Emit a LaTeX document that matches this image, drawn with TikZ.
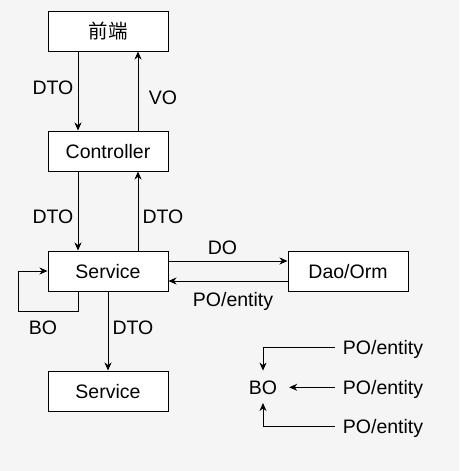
\documentclass[tikz,border=0pt]{standalone}
\usepackage{fontspec}
\setmainfont{Liberation Sans}
\newfontfamily\cjk{Noto Sans CJK SC}
\usetikzlibrary{arrows.meta}
\definecolor{bg}{HTML}{F5F5F5}
\begin{document}
\begin{tikzpicture}[x=1pt,y=-1pt,
  txt/.style={font=\fontsize{19.5}{23}\selectfont, text height=14.4pt, text depth=0pt},
  box/.style={txt, draw, fill=white, line width=1pt, minimum width=120pt, minimum height=40pt, inner sep=0pt},
  lbl/.style={txt, inner sep=0pt},
  conn/.style={line width=1pt, -{Stealth[length=8pt,width=7pt,inset=2.5pt]}},
  line/.style={line width=1pt}
]
\fill[bg] (0,0) rectangle (459,471);
\useasboundingbox (0,0) rectangle (459,471);

\node[box] (fe) at (108,31) {\cjk 前端};
\node[box] (ctrl) at (108,151) {Controller};
\node[box] (svc) at (108,271) {Service};
\node[box] (svc2) at (108,391) {Service};
\node[box] (dao) at (348,271) {Dao/Orm};

\draw[conn] ([xshift=-30pt]fe.south) -- ([xshift=-30pt]ctrl.north);
\draw[conn] ([xshift=30pt]ctrl.north) -- ([xshift=30pt]fe.south);
\draw[conn] ([xshift=-30pt]ctrl.south) -- ([xshift=-30pt]svc.north);
\draw[conn] ([xshift=30pt]svc.north) -- ([xshift=30pt]ctrl.south);
\draw[conn] ([yshift=10pt]svc.east) -- ([yshift=10pt]dao.west);
\draw[conn] ([yshift=-10pt]dao.west) -- ([yshift=-10pt]svc.east);
\draw[conn] ([xshift=-30pt]svc.south) -- ++(0,20) -- ++(-60,0) |- (svc.west);
\draw[conn] (svc.south) -- (svc2.north);

\node[lbl] (l1) at (53,87) {DTO};
\node[lbl] (l2) at (163,97) {VO};
\node[lbl] (l3) at (53,216.5) {DTO};
\node[lbl] (l4) at (163,216.5) {DTO};
\node[lbl] (l5) at (222.5,247) {DO};
\node[lbl] (l6) at (233,299.3) {PO/entity};
\node[lbl] (l7) at (43,327) {BO};
\node[lbl] (l8) at (133,327) {DTO};

\node[lbl, minimum width=52pt, minimum height=32pt] (bo) at (263,386.8) {BO};
\node[lbl, inner xsep=8pt] (p1) at (383,347.3) {PO/entity};
\node[lbl, inner xsep=8pt] (p2) at (383,387.3) {PO/entity};
\node[lbl, inner xsep=8pt] (p3) at (383,426.5) {PO/entity};

\draw[conn] (p1.west) -| (bo.north);
\draw[conn] (p2.west) -- (p2.west -| bo.east);
\draw[conn] (p3.west) -| (bo.south);
\end{tikzpicture}
\end{document}
